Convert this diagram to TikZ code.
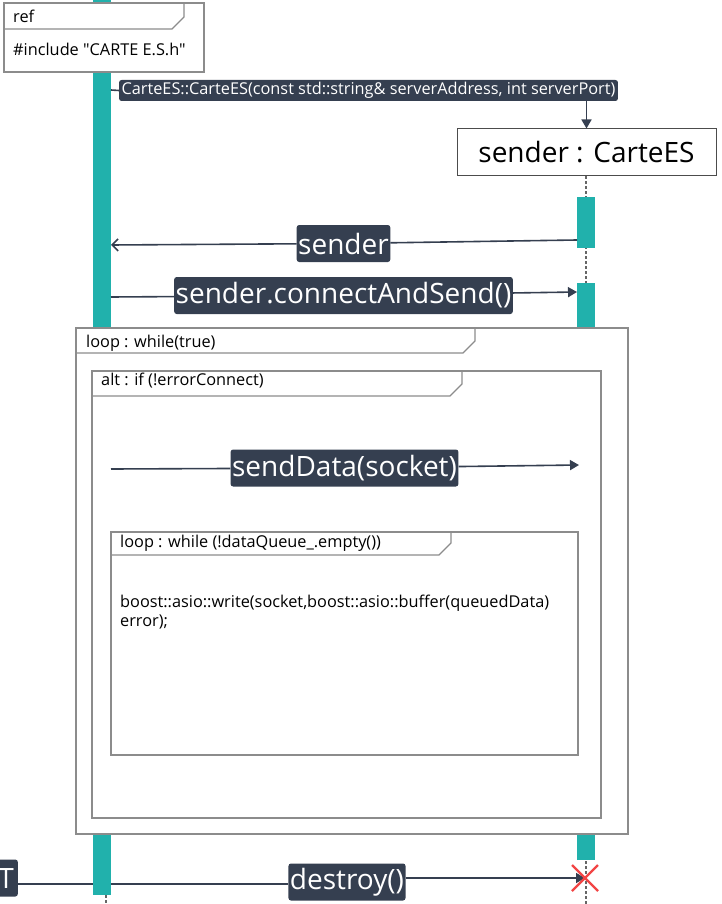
\documentclass[tikz,border=0pt]{standalone}
\usepackage{fontspec}
\setmainfont{Open Sans}[Ligatures=TeXOff]
\usetikzlibrary{arrows.meta}

\definecolor{barteal}{HTML}{21B1AC}
\definecolor{msgdark}{HTML}{353F50}
\definecolor{framegray}{HTML}{8C8C8C}
\definecolor{killred}{HTML}{F24545}

\tikzset{
  bar/.style={fill=barteal},
  lifeline/.style={draw=black!60, line width=1.3pt, dash pattern=on 3pt off 2pt},
  msglabel/.style={fill=msgdark, text=white, rounded corners=2.5pt, inner xsep=1.5pt,
    inner ysep=0pt, minimum height=37pt, font=\fontsize{28}{30}\selectfont},
  smalllabel/.style={fill=msgdark, text=white, rounded corners=2.5pt, inner xsep=2.5pt,
    inner ysep=0pt, minimum height=21pt, font=\fontsize{16.3}{18}\selectfont},
  call/.style={draw=msgdark, line width=1.6pt, -{Triangle[length=9pt,width=10pt]}},
  reply/.style={draw=msgdark, line width=1.6pt, -{Straight Barb[length=6pt,width=12pt]}},
  umlbox/.style={draw=framegray, line width=1.3pt, fill=white},
  frametext/.style={font=\fontsize{16.3}{18}\selectfont, anchor=west, inner sep=0pt},
}

% combined fragment: x1,y1,x2,y2,tab x,tab y
\newcommand{\fragment}[6]{%
  \draw[umlbox] (#1,#2) rectangle (#3,#4);
  \draw[framegray, line width=1.3pt] (#1,#6) -- (#5-12,#6) -- (#5,#6-12) -- (#5,#2);
}

\begin{document}
\begin{tikzpicture}[x=1pt,y=-1pt]
\useasboundingbox (0,0) rectangle (722,904);

% lifelines
\draw[lifeline] (106,0) -- (106,904);
\draw[lifeline] (586,176) -- (586,904);

% destroy message (behind the bars)
\node[msglabel, anchor=east, inner xsep=4pt] (cut) at (18,878) {T};
\node[msglabel] (destroy) at (347,882) {destroy()};
\coordinate (kill) at (585,878);
\draw[msgdark, line width=1.6pt] (cut.east |- 0,884) -- (destroy.west |- 0,884);
\draw[call] (destroy.east |- kill) -- (kill);

% activation bars
\fill[bar] (93,0) rectangle (111,895);
\fill[bar] (577,197) rectangle (595,248);
\fill[bar] (577,283) rectangle (595,860);

% ref frame
\fragment{4}{3}{204}{72}{184}{29}
\node[frametext] (reftag) at (13,16) {ref};
\node[frametext] (incl) at (13,49) {\#include "CARTE E.S.h"};

% creation
\coordinate (cL) at (111,90);
\node[smalllabel] (ctor) at (368.5,90.5)
  {CarteES::CarteES(const std::string\& serverAddress, int serverPort)};
\node[draw=black!70, line width=1pt, fill=white, minimum width=259pt, minimum height=47pt,
  font=\fontsize{28}{30}\selectfont] (sender) at (586.5,152.5) {sender : CarteES};
\draw[msgdark, line width=1.6pt] (cL) -- (ctor.west);
\draw[call] (ctor.south -| sender.north) -- (sender.north);

% reply and call
\coordinate (rR) at (577,240);
\coordinate (rL) at (111,245);
\node[msglabel] (ret) at (343.5,243.5) {sender};
\draw[reply] (rR) -- (ret) -- (rL);

\coordinate (cA) at (111,297);
\coordinate (cB) at (577,292);
\node[msglabel] (connect) at (343.5,295.5) {sender.connectAndSend()};
\draw[call] (cA) -- (connect) -- (cB);

% combined fragments
\fragment{76}{328}{628}{834}{475}{353}
\node[frametext] (looptag) at (86,343) {loop : while(true)};
\fragment{92}{371}{601}{818}{462}{396}
\node[frametext] (alttag) at (101,381) {alt : if (!errorConnect)};

\coordinate (sA) at (111,469);
\coordinate (sB) at (579,465);
\node[msglabel] (senddata) at (344.5,468) {sendData(socket)};
\draw[call] (sA) -- (senddata) -- (sB);

\fragment{111}{532}{578}{755}{451}{555}
\node[frametext] (qtag) at (120,543) {loop : while (!dataQueue\_.empty())};
\node[frametext] (write1) at (120,603) {boost::asio::write(socket,boost::asio::buffer(queuedData)};
\node[frametext] (write2) at (120,622) {error);};

% destruction mark
\draw[killred, line width=2.2pt] (572,865) -- (598,891) (572,891) -- (598,865);
\end{tikzpicture}
\end{document}
